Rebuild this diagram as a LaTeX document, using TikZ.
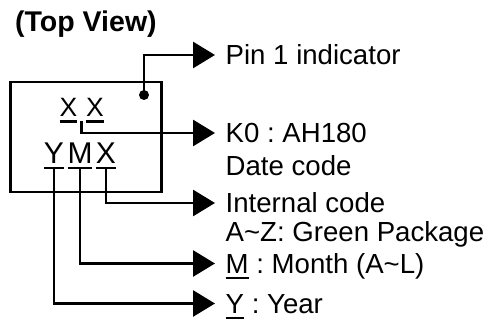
\documentclass[tikz,border=0pt]{standalone}
\usepackage{fontspec}
\setmainfont{Liberation Sans}
\usetikzlibrary{arrows.meta,calc}
\newcommand\ulmark[1]{\setbox0\hbox{#1}\rlap{\rule[-5.6pt]{\wd0}{2.2pt}}\box0\relax}
\frenchspacing
\begin{document}
\begin{tikzpicture}[x=1pt,y=-1pt,
  conn/.style={line width=2.8pt, -{Triangle[length=22pt,width=26pt]}},
  lbl/.style={anchor=west, inner xsep=10.5pt, inner ysep=0pt, text height=19.6pt, text depth=0pt, font=\frenchspacing\fontsize{27.6}{30}\selectfont},
  glyph/.style={anchor=base, inner sep=0pt, font=\fontsize{#1}{#1}\selectfont},
  chipbox/.style={draw, line width=2.8pt, inner sep=0pt, minimum width=151pt, minimum height=110pt}]
\useasboundingbox (0,0) rectangle (500,320);
\fill[white] (0,0) rectangle (500,320);
\node[anchor=base west, inner sep=0pt, font=\bfseries\fontsize{28.5}{30}\selectfont] (title) at (15,32) {(Top View)};
\node[chipbox] (chip) at (86,137) {};
\node[circle, fill, inner sep=0pt, minimum size=10pt] (dot) at (144,95) {};
\node[glyph=26.5] (xa) at (68.5,117) {\ulmark{X}};
\node[glyph=26.5] (xb) at (95,117) {\ulmark{X}};
\node[glyph=30] (gy) at (54,163.5) {\ulmark{Y}};
\node[glyph=30] (gm) at (80,163.5) {\ulmark{M}};
\node[glyph=30] (gx) at (106,163.5) {\ulmark{X}};
\node[lbl] (pin) at (215,55) {Pin 1 indicator};
\node[lbl] (k0) at (215,133) {K0 : AH180};
\node[lbl] (date) at (215,166) {Date code};
\node[lbl] (int) at (215,203) {Internal code};
\node[lbl] (grn) at (215,231.5) {A\textasciitilde Z: Green Package};
\node[lbl] (mon) at (215,263.5) {\ulmark{M} : Month (A\textasciitilde L)};
\node[lbl] (yr) at (215,303.5) {\ulmark{Y} : Year};
\coordinate (xxu) at ($(xa.base)!.5!(xb.base)+(0,4.5)$);
\draw[conn] (dot.center) |- (pin.west);
\draw[conn] (xxu) |- (k0.west);
\draw[conn] ([yshift=-4.5pt]gx.base) |- (int.west);
\draw[conn] ([yshift=-4.5pt]gm.base) |- (mon.west);
\draw[conn] ([yshift=-4.5pt]gy.base) |- (yr.west);
\end{tikzpicture}
\end{document}
